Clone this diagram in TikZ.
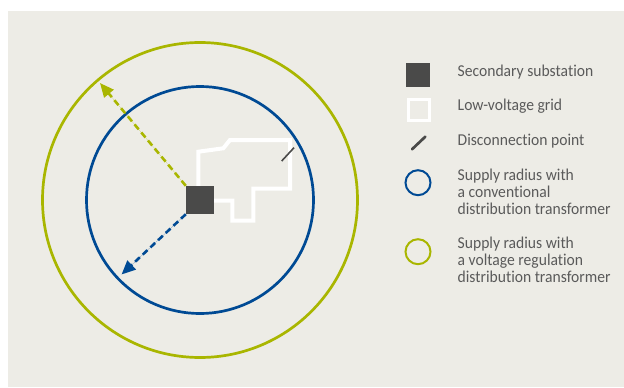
\documentclass[tikz,border=0pt]{standalone}
\usepackage{fontspec}
\setmainfont{Carlito}[FakeStretch=0.94, Ligatures=NoCommon]
\usetikzlibrary{arrows.meta}
\definecolor{bgc}{HTML}{EDECE6}
\definecolor{greenc}{HTML}{A9B600}
\definecolor{bluec}{HTML}{004A94}
\definecolor{darkc}{HTML}{4A4A49}
\definecolor{textc}{HTML}{5A5A5A}
\tikzset{
  legtext/.style={anchor=base west, inner sep=0pt, text=textc, align=left,
    font=\fontsize{16.6pt}{17.2pt}\selectfont},
  radarrow/.style={line width=2.6pt, dash pattern=on 6.5pt off 4pt,
    -{Triangle[length=14pt,width=12pt]}},
  ring/.style={circle, draw, inner sep=0pt, line width=2.7pt},
  legring/.style={circle, draw, inner sep=0pt, line width=2pt, minimum size=25pt},
}
\begin{document}
\begin{tikzpicture}[x=1pt,y=-1pt]
\useasboundingbox (0,0) rectangle (624,388);
\fill[white] (0,0) rectangle (624,388);
\fill[bgc] (8,11) rectangle (624,387);
% rings
\node[ring, draw=greenc, minimum size=315pt] (gring) at (200,200) {};
\node[ring, draw=bluec, minimum size=227pt] (bring) at (200,200) {};
% low-voltage grid
\draw[white, line width=4pt, line join=miter]
  (212,200.7) -- (232.3,200.7) -- (232.3,220.7) -- (253.3,220.7) -- (253.3,188.7)
  -- (290,188.7) -- (290,140) -- (230,140) -- (223.3,148.3) -- (198.3,151.7) -- (198.3,188);
\draw[darkc, line width=1.6pt] (281.7,161) -- (294,147.7);
% substation
\node[fill=darkc, minimum size=28pt, inner sep=0pt] (sub) at (200,200) {};
\coordinate (gtip) at (100,83);
\coordinate (btip) at (121.5,274.5);
\draw[radarrow, draw=greenc, fill=greenc] (sub.north west) -- (gtip);
\draw[radarrow, draw=bluec, fill=bluec] (sub.south west) -- (btip);
% legend
\node[fill=darkc, minimum size=24pt, inner sep=0pt] (lsub) at (418,74.7) {};
\node[draw=white, line width=3pt, minimum size=21pt, inner sep=0pt] (lgrid) at (418.7,109.5) {};
\coordinate (ld1) at (412,149.3);
\coordinate (ld2) at (425.3,136.7);
\draw[darkc, line width=2.7pt, line cap=round] (ld1) -- (ld2);
\node[legring, draw=bluec] (lblue) at (418,182.7) {};
\node[legring, draw=greenc] (lgreen) at (418,251.7) {};
\node[legtext] (t1) at (457.5,76.9) {Secondary substation};
\node[legtext] (t2) at (457.5,110.5) {Low-voltage grid};
\node[legtext] (t3) at (457.5,145) {Disconnection point};
\node[legtext] (t4) at (457.5,214.4) {Supply radius with\\a conventional\\distribution transformer};
\node[legtext] (t5) at (457.5,282.7) {Supply radius with\\a voltage regulation\\distribution transformer};
\end{tikzpicture}
\end{document}
